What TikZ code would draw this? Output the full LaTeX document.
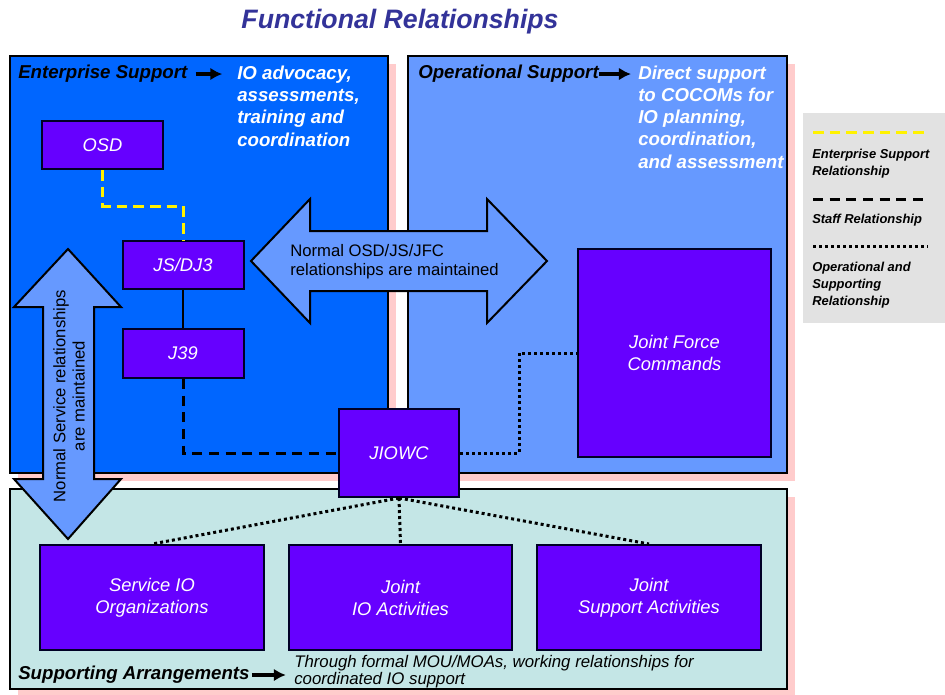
\documentclass[tikz,border=0pt]{standalone}
\usepackage{fontspec}
\setmainfont{Liberation Sans}
\usepackage{tikz}
\usetikzlibrary{positioning,shadows,arrows.meta}
\definecolor{esblue}{HTML}{0066FF}
\definecolor{osblue}{HTML}{6699FF}
\definecolor{saback}{HTML}{C4E6E6}
\definecolor{unitpurple}{HTML}{6600FF}
\definecolor{pinkshade}{HTML}{FFCCCC}
\definecolor{legendgray}{HTML}{E2E2E2}
\definecolor{titleblue}{HTML}{333399}
\tikzset{
  panel/.style  = {draw, line width=1.5pt, drop shadow={shadow xshift=6pt,
                   shadow yshift=-6pt, fill=pinkshade, opacity=1}},
  unit/.style   = {draw=black!85!blue, line width=1.5pt, fill=unitpurple, text=white,
                   font=\fontsize{13.75}{16.5}\selectfont\itshape, align=center, inner sep=0pt},
  heading/.style = {font=\fontsize{14}{16.7}\selectfont\bfseries\itshape, anchor=west, inner sep=0pt},
  aim/.style    = {heading, text=white, align=left},
  post/.style   = {-{Latex[length=9pt,width=9.5pt]}, line width=2.6pt},
  bigarrow/.style = {draw, line width=1.5pt, fill=osblue},
  arrowtext/.style = {font=\fontsize{12.5}{14.5}\selectfont, inner sep=0pt},
  legendtext/.style = {font=\fontsize{9.7}{12.75}\selectfont\bfseries\itshape, anchor=west,
                   align=left, inner sep=0pt},
  enterprise/.style = {draw=yellow, line width=2.25pt, dash pattern=on 8pt off 4.5pt},
  staff/.style  = {line width=2.25pt, dash pattern=on 7.5pt off 5pt},
  operational/.style = {line width=2.25pt, dash pattern=on 2.25pt off 2.25pt}
}

\begin{document}
\begin{tikzpicture}[x=0.75pt,y=-0.75pt]
  \useasboundingbox (0,0) rectangle (945,694);
  \node[font=\fontsize{20}{24}\selectfont\bfseries\itshape, text=titleblue] (title) at (400,22)
    {Functional Relationships};

  % the three areas
  \draw[panel, fill=esblue] (10,56) rectangle (388,473);
  \draw[panel, fill=osblue] (408,56) rectangle (787,473);
  \draw[panel, fill=saback] (10,489) rectangle (787,689);

  % headings
  \node[heading] (es) at (18,74) {Enterprise Support};
  \coordinate (esarrow) at ([xshift=26pt]es.east);
  \draw[post, shorten <=6pt] (es.east) -- (esarrow);
  \node[aim] (esaim) at (237,106) {IO advocacy,\\assessments,\\training and\\coordination};

  \node[heading] (os) at (418,74) {Operational Support};
  \coordinate (osarrow) at ([xshift=24pt]os.east);
  \draw[post] (os.east) -- (osarrow);
  \node[aim] (osaim) at (638,117) {Direct support\\to COCOMs for\\IO planning,\\coordination,\\and assessment};

  \node[heading] (sa) at (18,675) {Supporting Arrangements};
  \coordinate (saarrow) at ([xshift=27pt]sa.east);
  \draw[post, shorten <=1.5pt] (sa.east) -- (saarrow);
  \node[font=\fontsize{12.6}{12.75}\selectfont\itshape, anchor=west, align=left, inner sep=0pt]
    (samou) at (294,672) {Through formal MOU/MOAs, working relationships for\\coordinated IO support};

  % big arrows
  \draw[bigarrow] (251,261) -- (310,199) -- (310,231) -- (487,231) -- (487,199) -- (547,261)
    -- (487,323) -- (487,291) -- (310,291) -- (310,323) -- cycle;
  \node[arrowtext, anchor=west, align=left] (jfcrel) at (290,262)
    {Normal OSD/JS/JFC\\relationships are maintained};
  \draw[bigarrow] (68,249) -- (121,307) -- (94,307) -- (94,479) -- (121,479) -- (68,539)
    -- (14,479) -- (43,479) -- (43,307) -- (14,307) -- cycle;
  \node[arrowtext, rotate=90, align=center] (svcrel) at (69,396)
    {Normal Service relationships\\are maintained};

  % organisations
  \node[unit, minimum width=90.75pt, minimum height=36pt] (osd) at (102.5,145) {OSD};
  \node[unit, minimum width=90.75pt, minimum height=36pt] (jsdj3) at (183,265) {JS/DJ3};
  \node[unit, minimum width=90.75pt, minimum height=36.75pt] (j39) at (183,353.5) {J39};
  \node[unit, minimum width=90pt, minimum height=66pt] (jiowc) at (399,453) {JIOWC};
  \node[unit, minimum width=144.75pt, minimum height=156pt] (jfc) at (674.5,353) {Joint Force\\Commands};
  \node[unit, minimum width=168pt, minimum height=78.75pt] (svcio) at (152,597.5) {Service IO\\Organizations};
  \node[unit, minimum width=167.25pt, minimum height=78.75pt] (jointio) at (400.5,597.5) {Joint\\IO Activities};
  \node[unit, minimum width=168pt, minimum height=78.75pt] (jointsa) at (649,597.5) {Joint\\Support Activities};

  % relationships
  \draw[enterprise] (osd.south) -- ++(0,36) -| (jsdj3.north);
  \draw[line width=1.5pt] (jsdj3) -- (j39);
  \draw[staff] (j39.south) |- (jiowc.west);
  \draw[operational] (jiowc.east) -- ++(59,0) |- (jfc.west);
  \foreach \unitname in {svcio,jointio,jointsa}
    \draw[operational] (jiowc.south) -- (\unitname.north);

  % legend
  \fill[legendgray] (803,113) rectangle (945,323);
  \draw[enterprise] (813,132) -- (928,132);
  \node[legendtext] (lgesr) at (812,164) {Enterprise Support\\Relationship};
  \draw[staff] (813,199) -- (928,199);
  \node[legendtext] (lgstaff) at (812,220) {Staff Relationship};
  \draw[operational] (813,246) -- (928,246);
  \node[legendtext] (lgops) at (812,285) {Operational and\\Supporting\\Relationship};
\end{tikzpicture}
\end{document}
